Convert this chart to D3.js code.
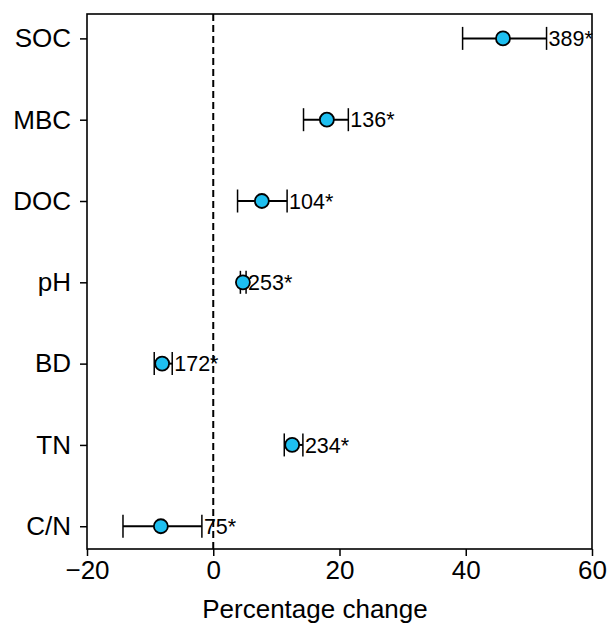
<!DOCTYPE html>
<html>
<meta charset="utf-8">
<style>
    body { margin: 0; background: #fff; }
    svg text { font-family: "Liberation Sans", Arial, sans-serif; fill: #000; }
</style>
<body>
<script src="https://d3js.org/d3.v7.min.js"></script>
<div id="chart"></div>
<script>
    // values
    var variables = ["SOC", "MBC", "DOC", "pH", "BD", "TN", "C/N"];
    var means = [45.9, 18.0, 7.7, 4.7, -8.1, 12.5, -8.3];
    var lowerCI = [39.5, 14.3, 3.85, 4.3, -9.35, 11.25, -14.3];
    var upperCI = [52.8, 21.4, 11.7, 5.2, -6.5, 14.2, -1.8];
    var sampleLabels = ["389*", "136*", "104*", "253*", "172*", "234*", "75*"];
    var xTicks = [-20, 0, 20, 40, 60];

    var data = variables.map(function (v, i) {
        return { name: v, idx: i, mean: means[i], lo: lowerCI[i], hi: upperCI[i], label: sampleLabels[i] };
    });

    var W = 608, H = 623;
    var margin = { top: 14, right: 16, bottom: 74, left: 87 };
    var width = W - margin.left - margin.right;
    var height = H - margin.top - margin.bottom;

    var svg = d3.select("#chart").append("svg")
        .attr("width", W)
        .attr("height", H)
        .append("g")
        .attr("transform", "translate(" + margin.left + "," + margin.top + ")");

    var x = d3.scaleLinear().domain([-20, 60]).range([0, width]);
    // matplotlib-like margin on categorical index axis
    var y = d3.scaleLinear().domain([-0.3, variables.length - 1 + 0.28]).range([0, height]);

    // zero reference line
    svg.append("line")
        .attr("x1", x(0)).attr("x2", x(0))
        .attr("y1", 0).attr("y2", height)
        .attr("stroke", "#000")
        .attr("stroke-width", 2)
        .attr("stroke-dasharray", "7,4");

    var cap = 11.5;
    var rows = svg.selectAll(".row").data(data).enter().append("g").attr("class", "row");

    rows.append("line")
        .attr("x1", function (d) { return x(d.lo); })
        .attr("x2", function (d) { return x(d.hi); })
        .attr("y1", function (d) { return y(d.idx); })
        .attr("y2", function (d) { return y(d.idx); })
        .attr("stroke", "#000").attr("stroke-width", 2);

    rows.append("line")
        .attr("x1", function (d) { return x(d.lo); })
        .attr("x2", function (d) { return x(d.lo); })
        .attr("y1", function (d) { return y(d.idx) - cap; })
        .attr("y2", function (d) { return y(d.idx) + cap; })
        .attr("stroke", "#000").attr("stroke-width", 1.5);

    rows.append("line")
        .attr("x1", function (d) { return x(d.hi); })
        .attr("x2", function (d) { return x(d.hi); })
        .attr("y1", function (d) { return y(d.idx) - cap; })
        .attr("y2", function (d) { return y(d.idx) + cap; })
        .attr("stroke", "#000").attr("stroke-width", 1.5);

    rows.append("circle")
        .attr("cx", function (d) { return x(d.mean); })
        .attr("cy", function (d) { return y(d.idx); })
        .attr("r", 7)
        .attr("fill", "#1EBFF0")
        .attr("stroke", "#000")
        .attr("stroke-width", 1.8);

    rows.append("text")
        .attr("x", function (d) { return x(d.hi) + 2; })
        .attr("y", function (d) { return y(d.idx); })
        .attr("dy", "0.36em")
        .style("font-size", "21.5px")
        .text(function (d) { return d.label; });

    // frame
    svg.append("rect")
        .attr("x", 0).attr("y", 0)
        .attr("width", width).attr("height", height)
        .attr("fill", "none")
        .attr("stroke", "#000")
        .attr("stroke-width", 1.6);

    var xAxis = d3.axisBottom(x).tickValues(xTicks).tickSize(7).tickPadding(5)
        .tickFormat(function (d) { return d < 0 ? "\u2212" + Math.abs(d) : d; });
    var gx = svg.append("g")
        .attr("transform", "translate(0," + height + ")")
        .call(xAxis);
    gx.select(".domain").remove();
    gx.selectAll("line").attr("stroke-width", 1.5);
    gx.selectAll("text").style("font-size", "26px").attr("font-family", null);

    var yAxis = d3.axisLeft(y).tickValues(d3.range(variables.length)).tickSize(7).tickPadding(9)
        .tickFormat(function (i) { return variables[i]; });
    var gy = svg.append("g").call(yAxis);
    gy.select(".domain").remove();
    gy.selectAll("line").attr("stroke-width", 1.5);
    gy.selectAll("text").style("font-size", "26px").attr("font-family", null);

    svg.append("text")
        .attr("x", 315 - margin.left)
        .attr("y", height + 69)
        .attr("text-anchor", "middle")
        .style("font-size", "26px")
        .text("Percentage change");
</script>
</body>
</html>
